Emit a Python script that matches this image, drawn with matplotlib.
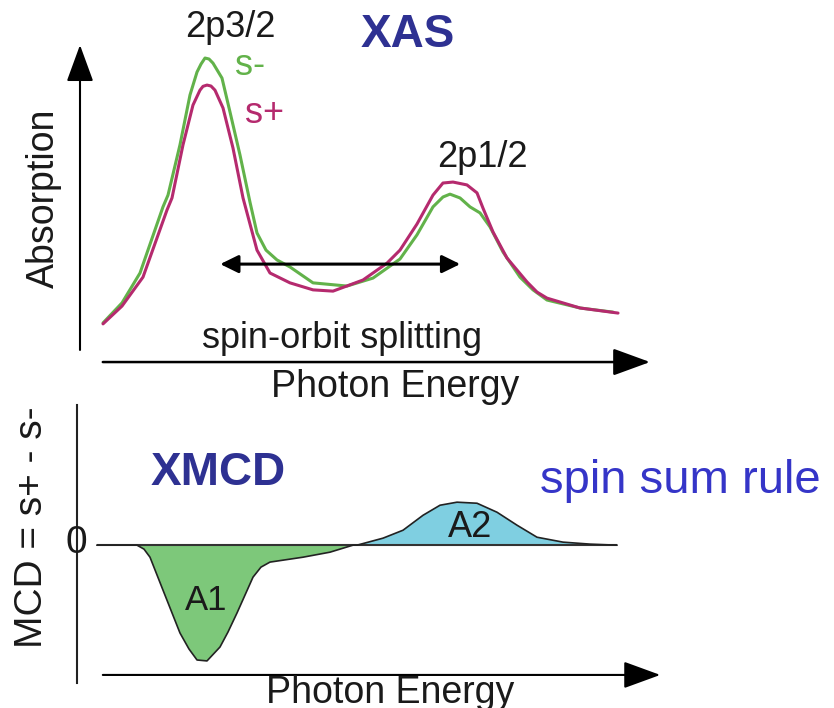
import numpy as np
import matplotlib
matplotlib.use("Agg")
import matplotlib.pyplot as plt

plt.rcParams['font.family'] = ['Liberation Sans', 'DejaVu Sans']

# XAS spectra (arbitrary energy units, normalised absorption)
energy_minus = [4.04, 7.37, 10.53, 14.56, 15.44, 17.54, 19.30, 20.53, 21.23, 21.93, 22.63,
                23.33, 24.91, 26.32, 28.07, 29.82, 31.05, 32.63, 34.56, 36.84, 40.88, 46.84,
                51.40, 56.14, 59.12, 61.93, 63.68, 64.91, 66.67, 68.42, 70.18, 71.93, 74.21,
                77.19, 79.47, 81.93, 87.72, 93.51]
abs_minus = [0.126, 0.189, 0.283, 0.491, 0.528, 0.686, 0.843, 0.915, 0.940, 0.959, 0.956,
             0.943, 0.896, 0.789, 0.654, 0.506, 0.409, 0.355, 0.324, 0.302, 0.252, 0.242,
             0.267, 0.327, 0.403, 0.491, 0.522, 0.531, 0.519, 0.491, 0.472, 0.428, 0.349,
             0.270, 0.230, 0.198, 0.173, 0.160]

energy_plus = [4.04, 7.37, 11.05, 15.26, 16.14, 18.07, 19.82, 21.05, 21.58, 22.28, 22.98,
               23.68, 25.09, 26.84, 28.60, 31.05, 33.33, 36.84, 40.88, 44.39, 49.65, 53.86,
               56.14, 59.12, 61.93, 63.68, 65.44, 67.89, 69.65, 70.70, 72.46, 74.91, 78.42,
               80.18, 81.93, 87.72, 94.39]
abs_plus = [0.123, 0.179, 0.270, 0.481, 0.519, 0.686, 0.811, 0.858, 0.870, 0.874, 0.871,
            0.858, 0.802, 0.676, 0.519, 0.355, 0.283, 0.252, 0.230, 0.226, 0.261, 0.314,
            0.355, 0.437, 0.528, 0.566, 0.569, 0.560, 0.535, 0.487, 0.412, 0.330, 0.255,
            0.223, 0.204, 0.173, 0.157]

# XMCD difference signal
mcd_energy = [2.98, 10.0, 11.23, 12.28, 14.56, 17.54, 19.12, 20.53, 22.28, 24.56, 25.96,
              27.54, 30.35, 31.75, 33.33, 39.12, 43.86, 47.89, 48.6, 53.16, 56.67, 60.18,
              63.16, 66.14, 69.65, 73.16, 76.67, 80.18, 84.74, 89.47, 94.2]
mcd = [0.0, 0.0, -0.034, -0.103, -0.385, -0.752, -0.889, -0.983, -0.991, -0.872, -0.744,
       -0.581, -0.274, -0.188, -0.145, -0.103, -0.060, 0.0, 0.0, 0.060, 0.128, 0.256,
       0.342, 0.368, 0.359, 0.282, 0.171, 0.068, 0.026, 0.009, 0.0]

# energy separation between the two edges
splitting = (24.6, 66.7)
splitting_level = 0.311

W, H = 834, 708
fig = plt.figure(figsize=(W / 100, H / 100), dpi=100)

ink = '#1a1a1a'
green = '#62b24a'
magenta = '#b52a6e'
navy = '#2e3192'


def label(x, y, s, **kw):
    kw.setdefault('color', ink)
    fig.text(x / W, 1 - y / H, s, **kw)


def axis_arrow(ax, start, end, lw=1.6, head='-|>,head_length=1.15,head_width=0.42'):
    ax.annotate('', xy=end, xytext=start, xycoords='axes fraction',
                textcoords='axes fraction', annotation_clip=False,
                arrowprops=dict(arrowstyle=head, color='black', lw=lw,
                                mutation_scale=20, shrinkA=0, shrinkB=0))


# ---- XAS panel ----
ax1 = fig.add_axes([80 / W, 1 - 363 / H, 570 / W, 318 / H])
ax1.set_xlim(0, 100)
ax1.set_ylim(0, 1)
ax1.axis('off')

ax1.plot(energy_minus, abs_minus, color=green, lw=2.2,
         solid_capstyle='round', solid_joinstyle='round')
ax1.plot(energy_plus, abs_plus, color=magenta, lw=2.2,
         solid_capstyle='round', solid_joinstyle='round')

ax1.annotate('', xy=(splitting[0], splitting_level), xytext=(splitting[1], splitting_level),
             arrowprops=dict(arrowstyle='<|-|>,head_length=0.55,head_width=0.27',
                             color='black', lw=2.2, mutation_scale=20,
                             shrinkA=0, shrinkB=0))

axis_arrow(ax1, (0, 0.041), (0, 1.0), lw=1.5)
axis_arrow(ax1, (0.04, 0.003), (1.0, 0.003), lw=1.8)

# ---- XMCD panel ----
ax2 = fig.add_axes([80 / W, 1 - 683 / H, 570 / W, 278 / H])
ax2.set_xlim(0, 100)
ax2.set_ylim(-1.18, 1.2)
ax2.axis('off')

mcd_energy = np.array(mcd_energy)
mcd = np.array(mcd)
ax2.fill_between(mcd_energy, mcd, 0, where=mcd <= 0, interpolate=True,
                 color='#7dc87a', lw=0)
ax2.fill_between(mcd_energy, mcd, 0, where=mcd >= 0, interpolate=True,
                 color='#7fcfe1', lw=0)
ax2.hlines(0, mcd_energy[0], mcd_energy[-1], color='#333333', lw=1.5)
ax2.plot(mcd_energy, mcd, color='#222222', lw=1.2, solid_joinstyle='round')

ax2.plot([-0.005, -0.005], [0, 1], color='#222222', lw=1.5,
         transform=ax2.transAxes, clip_on=False)
axis_arrow(ax2, (0.04, 0.029), (1.018, 0.029), lw=1.5)

# ---- labels ----
label(230, 37, '2p3/2', fontsize=26, ha='center', va='baseline')
label(408, 47, 'XAS', fontsize=33, fontweight='bold', color=navy, ha='center', va='baseline')
label(250, 75, 's-', fontsize=26, color=green, ha='center', va='baseline')
label(265, 123, 's+', fontsize=26, color=magenta, ha='center', va='baseline')
label(482, 167, '2p1/2', fontsize=26, ha='center', va='baseline')
label(44, 198, 'Absorption', fontsize=27, rotation=90, ha='center', va='center')
label(342, 348, 'spin-orbit splitting', fontsize=26, ha='center', va='baseline')
label(395, 397, 'Photon Energy', fontsize=27, ha='center', va='baseline')

label(218, 485, 'XMCD', fontsize=33, fontweight='bold', color=navy, ha='center', va='baseline')
label(680, 493, 'spin sum rule', fontsize=34, color='#3535c8', ha='center', va='baseline')
label(76, 553, '0', fontsize=28, ha='center', va='baseline')
label(32, 527, 'MCD = s+ - s-', fontsize=28, rotation=90, ha='center', va='center')
label(206, 610, 'A1', fontsize=25, ha='center', va='baseline')
label(470, 537, 'A2', fontsize=26, ha='center', va='baseline')
label(390, 703, 'Photon Energy', fontsize=27, ha='center', va='baseline')

fig.savefig('out.png', dpi=100, facecolor='white')
